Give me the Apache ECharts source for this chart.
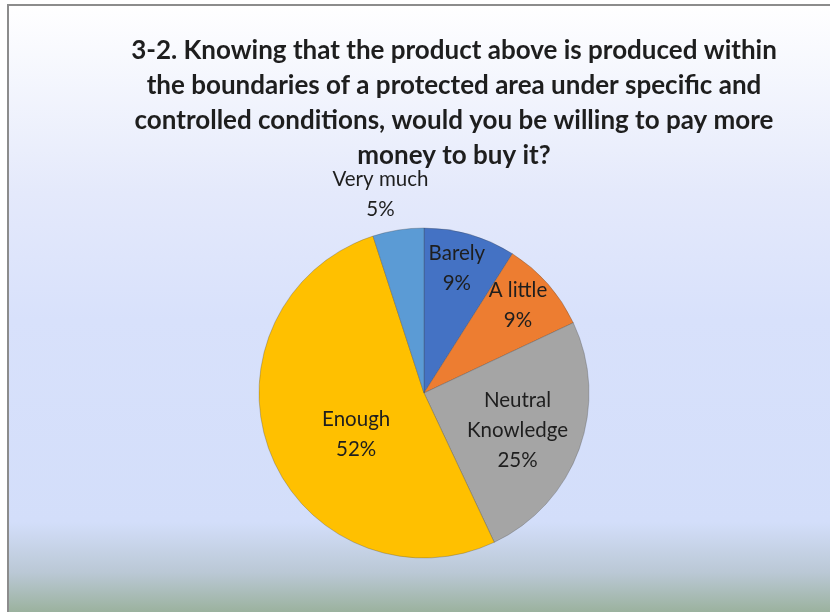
<!DOCTYPE html>
<html>
<head>
<meta charset="utf-8">
<title>3-2 willingness to pay</title>
<script src="https://cdn.jsdelivr.net/npm/echarts@6/dist/echarts.min.js"></script>
<style>
    html, body { margin: 0; padding: 0; background: #fff; }
    #chart { width: 830px; height: 612px; }
</style>
</head>
<body>
<div id="chart"></div>
<script>
// 数据
const categories = ['Barely', 'A little', 'Neutral\nKnowledge', 'Enough', 'Very much'];
const shares = [9, 9, 25, 52, 5];
const sliceColors = ['#4472C4', '#ED7D31', '#A5A5A5', '#FFC000', '#5B9BD5'];

const titleText = '3-2. Knowing that the product above is produced within\n' +
    'the boundaries of a protected area under specific and\n' +
    'controlled conditions, would you be willing to pay more\n' +
    'money to buy it?';

// 饼图几何
const pieCenter = [424, 393];
const pieRadius = 165;
// 标签离圆心的距离（半径的倍数）和角度微调（度），模仿 Excel 的放置
const labelRadius = [0.78, 0.78, 0.61, 0.48, 1.23];
const labelTurn = [-1.4, -1.7, 1.9, -9.5, -3.4];

function initChart() {
    const chartDom = document.getElementById('chart');
    const myChart = echarts.init(chartDom);

    const option = {
        backgroundColor: '#ffffff',
        animation: false,
        graphic: [{
            type: 'rect',
            z: -100,
            shape: { x: 8, y: 5, width: 840, height: 630 },
            style: {
                fill: {
                    type: 'linear', x: 0, y: 0, x2: 0, y2: 1,
                    colorStops: [
                        { offset: 0, color: '#ffffff' },
                        { offset: 0.3, color: '#e4e9fb' },
                        { offset: 0.5, color: '#d8e1fb' },
                        { offset: 0.82, color: '#d3defa' },
                        { offset: 0.9, color: '#bac8d5' },
                        { offset: 0.97, color: '#97af97' },
                        { offset: 1, color: '#92ad90' }
                    ]
                },
                stroke: '#8c8c8c',
                lineWidth: 2
            }
        }],
        title: {
            text: titleText,
            left: 449,
            top: 28,
            textAlign: 'center',
            textStyle: {
                fontFamily: 'Lato',
                fontWeight: 'bold',
                fontSize: 26,
                lineHeight: 35,
                color: '#1e1e1e'
            }
        },
        series: [{
            type: 'pie',
            center: pieCenter,
            radius: [0, pieRadius],
            startAngle: 90,
            clockwise: true,
            avoidLabelOverlap: false,
            data: categories.map((name, i) => ({
                name: name,
                value: shares[i],
                itemStyle: { color: sliceColors[i] }
            })),
            itemStyle: {
                borderColor: 'rgba(70, 70, 70, 0.3)',
                borderWidth: 1
            },
            label: {
                show: true,
                position: 'inside',
                formatter: p => p.name + '\n' + p.value + '%',
                fontFamily: 'Lato',
                fontSize: 20.5,
                lineHeight: 30,
                color: '#1e1e1e'
            },
            labelLine: { show: false },
            labelLayout: params => {
                const r = params.labelRect;
                const lx = r.x + r.width / 2 - pieCenter[0];
                const ly = r.y + r.height / 2 - pieCenter[1];
                const d = Math.sqrt(lx * lx + ly * ly) || 1;
                const k = labelRadius[params.dataIndex] * pieRadius / d;
                const a = labelTurn[params.dataIndex] * Math.PI / 180;
                const rx = lx * Math.cos(a) - ly * Math.sin(a);
                const ry = lx * Math.sin(a) + ly * Math.cos(a);
                return {
                    x: pieCenter[0] + rx * k,
                    y: pieCenter[1] + ry * k,
                    align: 'center',
                    verticalAlign: 'middle'
                };
            }
        }]
    };

    myChart.setOption(option);
}

document.addEventListener('DOMContentLoaded', initChart);
</script>
</body>
</html>
